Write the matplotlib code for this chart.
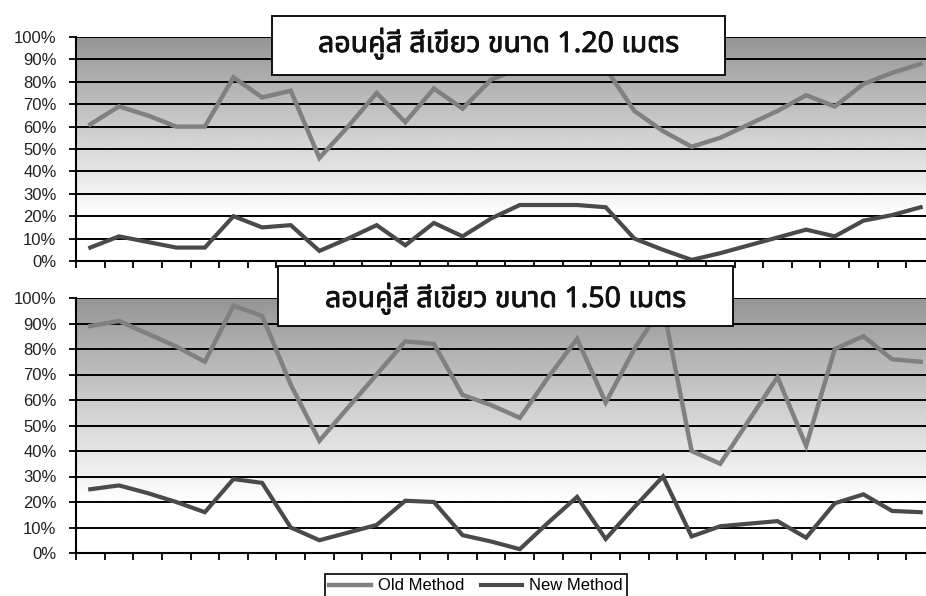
import numpy as np
import matplotlib
matplotlib.use("Agg")
import matplotlib.pyplot as plt
import matplotlib.patheffects as pe
from matplotlib import font_manager
from matplotlib.ticker import PercentFormatter, FixedLocator
from matplotlib.ft2font import FT2Font
from matplotlib.patches import Rectangle

# ---------------- data ----------------
categories = list(range(1, 31))
top_title = "ลอนคู่สี สีเขียว ขนาด 1.20 เมตร"
bottom_title = "ลอนคู่สี สีเขียว ขนาด 1.50 เมตร"
series_names = ["Old Method", "New Method"]

top_old = [61, 69, 65, 60, 60, 82, 73, 76, 46, 60, 75, 62, 77, 68, 81,
           86, 86, 86, 86, 67, 58, 51, 55, 61, 67, 74, 69, 79, 84, 88]
top_new = [6, 11, 8.5, 6, 6, 20, 15, 16, 4.5, 10, 16, 7, 17, 11, 19,
           25, 25, 25, 24, 10, 5, 0.5, 3.5, 7, 10.5, 14, 11, 18, 20.5, 24]

bot_old = [89, 91, 86, 81, 75, 97, 93, 66, 44, 57, 70, 83, 82, 62, 58,
           53, 69, 84, 59, 80, 97, 40, 35, 52, 69, 42, 80, 85, 76, 75]
bot_new = [25, 26.5, 23.5, 20, 16, 29, 27.5, 10, 5, 8, 11, 20.5, 20, 7, 4.5,
           1.5, 12, 22, 5.5, 18, 30, 6.5, 10.5, 11.5, 12.5, 6, 19.5, 23, 16.5, 16]

yticks = [0, 10, 20, 30, 40, 50, 60, 70, 80, 90, 100]

# ---------------- fonts ----------------
def find_thai_font():
    prefer = ["Noto Sans Thai", "Noto Sans Thai Looped", "Noto Serif Thai", "Loma",
              "Garuda", "Tlwg Typo", "Waree", "Umpush", "Sawasdee", "Norasi",
              "Kinnari", "Laksaman", "Tahoma", "Leelawadee UI", "FreeSans"]
    fams = {}
    for f in font_manager.fontManager.ttflist:
        fams.setdefault(f.name, []).append(f.fname)
    def has_thai(path):
        try:
            cm = FT2Font(path).get_charmap()
            return 0x0E25 in cm and 0x0E40 in cm
        except Exception:
            return False
    for name in prefer:
        if name in fams and any(has_thai(p) for p in fams[name]):
            return name
    for name, paths in fams.items():
        if any(has_thai(p) for p in paths):
            return name
    return "DejaVu Sans"

thai_font = find_thai_font()
plt.rcParams["font.family"] = ["Liberation Sans", "DejaVu Sans"]

# ---------------- figure ----------------
W, H = 926, 596
fig = plt.figure(figsize=(W / 100, H / 100), dpi=100)
fig.patch.set_facecolor("white")

x = np.arange(len(categories))
left_px, right_px = 76, 935

def px_axes(top_px, bottom_px):
    return fig.add_axes([left_px / W, 1 - bottom_px / H,
                         (right_px - left_px) / W, (bottom_px - top_px) / H])

ax_top = px_axes(37, 261)
ax_bot = px_axes(298, 553)

# gradient background
gy = np.linspace(0, 100, 300)
gv = 0.58 + (1 - 0.58) * np.clip((100 - gy) / 80.0, 0, 1) ** 0.95
grad = np.repeat(gv[:, None], 2, axis=1)

old_color = "#808080"
new_color = "#4a4a4a"

for ax, old, new in [(ax_top, top_old, top_new), (ax_bot, bot_old, bot_new)]:
    ax.set_xlim(-0.5, len(categories) - 0.5)
    ax.set_ylim(0, 100)
    ax.imshow(grad, cmap="gray", vmin=0, vmax=1, origin="lower", aspect="auto",
              extent=[-0.5, len(categories) - 0.5, 0, 100], zorder=0,
              interpolation="bilinear")
    for yt in yticks[1:]:
        ax.axhline(yt, color="black", lw=1.4, zorder=1)
    ax.plot(x, old, color=old_color, lw=3.2, zorder=3, label=series_names[0],
            solid_joinstyle="miter")
    ax.plot(x, new, color=new_color, lw=3.0, zorder=3, label=series_names[1],
            solid_joinstyle="miter")
    ax.set_yticks(yticks)
    ax.yaxis.set_major_formatter(PercentFormatter(100, decimals=0))
    ax.xaxis.set_major_locator(FixedLocator(np.arange(-0.5, len(categories) + 0.5, 1)))
    ax.set_xticklabels([])
    ax.tick_params(axis="y", direction="out", length=5, width=1.3, pad=9,
                   labelsize=12, colors="black", labelcolor="#222222")
    ax.tick_params(axis="x", direction="out", length=5, width=1.3)
    for s in ["top", "right"]:
        ax.spines[s].set_visible(False)
    for s in ["left", "bottom"]:
        ax.spines[s].set_linewidth(1.5)
        ax.spines[s].set_color("black")
    ax.spines["bottom"].set_zorder(4)

# title boxes
def title_box(x0, x1, y0, y1, text, ty):
    r = Rectangle((x0 / W, 1 - y1 / H), (x1 - x0) / W, (y1 - y0) / H,
                  transform=fig.transFigure, facecolor="white", edgecolor="black",
                  lw=1.3, zorder=10)
    fig.add_artist(r)
    fig.text((x0 + x1) / 2 / W, 1 - ty / H, text, ha="center", va="center",
             fontsize=20.5, fontweight="bold", family=[thai_font, "DejaVu Sans"],
             color="#111111", zorder=11,
             path_effects=[pe.withStroke(linewidth=0.6, foreground="#111111")])

title_box(272, 725, 16, 75, top_title, 44)
title_box(278, 733, 266, 326, bottom_title, 299)

handles, labels = ax_top.get_legend_handles_labels()
leg = fig.legend(handles, labels, loc="upper center", bbox_to_anchor=(476 / W, 1 - 566 / H),
                 ncol=2, frameon=True, fancybox=False, edgecolor="black", framealpha=1,
                 fontsize=12, handlelength=2.5, columnspacing=1.0, handletextpad=0.4,
                 borderpad=0.25)
leg.get_frame().set_linewidth(1.2)

fig.savefig("out.png", dpi=100)
